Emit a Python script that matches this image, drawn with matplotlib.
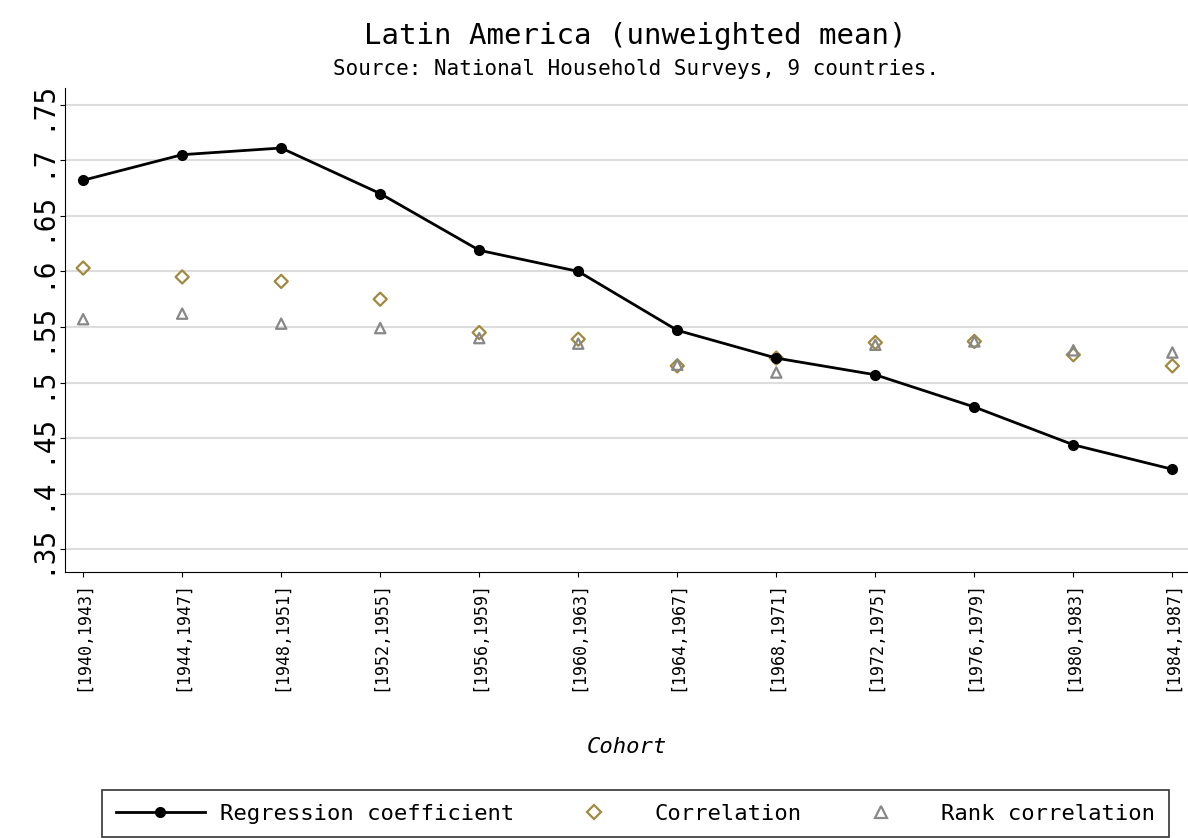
import matplotlib
matplotlib.use('agg')
import matplotlib.pyplot as plt
from matplotlib.lines import Line2D

cohorts = ['[1940,1943]', '[1944,1947]', '[1948,1951]', '[1952,1955]', '[1956,1959]', '[1960,1963]',
           '[1964,1967]', '[1968,1971]', '[1972,1975]', '[1976,1979]', '[1980,1983]', '[1984,1987]']
regression = [0.682, 0.705, 0.711, 0.670, 0.619, 0.600, 0.547, 0.522, 0.507, 0.478, 0.444, 0.422]
correlation = [0.603, 0.595, 0.591, 0.575, 0.545, 0.539, 0.515, 0.522, 0.536, 0.537, 0.525, 0.515]
rank_corr = [0.557, 0.562, 0.553, 0.549, 0.540, 0.535, 0.516, 0.509, 0.534, 0.537, 0.529, 0.527]
yticks = [0.35, 0.4, 0.45, 0.5, 0.55, 0.6, 0.65, 0.7, 0.75]
ylabels = ['.35', '.4', '.45', '.5', '.55', '.6', '.65', '.7', '.75']

mono = 'DejaVu Sans Mono'
fig = plt.figure(figsize=(11.88, 8.38), dpi=100)
ax = fig.add_axes([0.055, 0.318, 0.946, 0.577])
x = range(len(cohorts))

ax.plot(x, regression, color='black', lw=2, marker='o', ms=7, zorder=3)
ax.scatter(x, correlation, marker='D', s=45, facecolors='none', edgecolors='#a08a40', lw=1.6, zorder=2)
ax.scatter(x, rank_corr, marker='^', s=55, facecolors='none', edgecolors='#888888', lw=1.6, zorder=2)

ax.set_ylim(0.33, 0.765)
ax.set_xlim(-0.18, len(cohorts) - 0.83)
ax.set_yticks(yticks)
ax.set_yticklabels(ylabels, rotation=90, va='center', fontsize=20, family=mono)
ax.set_xticks(list(x))
ax.set_xticklabels(cohorts, rotation=90, fontsize=12, family=mono)
ax.grid(axis='y', color='#dddddd', lw=1.5)
ax.set_axisbelow(True)
for s in ['top', 'right']:
    ax.spines[s].set_visible(False)
ax.set_xlabel('Cohort', fontsize=16, style='italic', family=mono, labelpad=33)

fig.text(0.535, 0.947, 'Latin America (unweighted mean)', ha='center', fontsize=21, family=mono)
fig.text(0.535, 0.91, 'Source: National Household Surveys, 9 countries.', ha='center', fontsize=15, family=mono)

handles = [
    Line2D([], [], color='black', lw=2, marker='o', ms=7),
    Line2D([], [], ls='none', marker='D', ms=7, mfc='none', mec='#a08a40', mew=1.6),
    Line2D([], [], ls='none', marker='^', ms=8, mfc='none', mec='#888888', mew=1.6),
]
leg = fig.legend(handles, ['Regression coefficient', 'Correlation', 'Rank correlation'],
                 loc='lower center', bbox_to_anchor=(0.535, -0.012), ncol=3, fancybox=False,
                 edgecolor='black', prop={'family': mono, 'size': 16}, handlelength=4,
                 handletextpad=0.7, columnspacing=1.6, borderpad=0.6)
leg.get_frame().set_linewidth(1.2)

plt.savefig('out.png', dpi=100)
